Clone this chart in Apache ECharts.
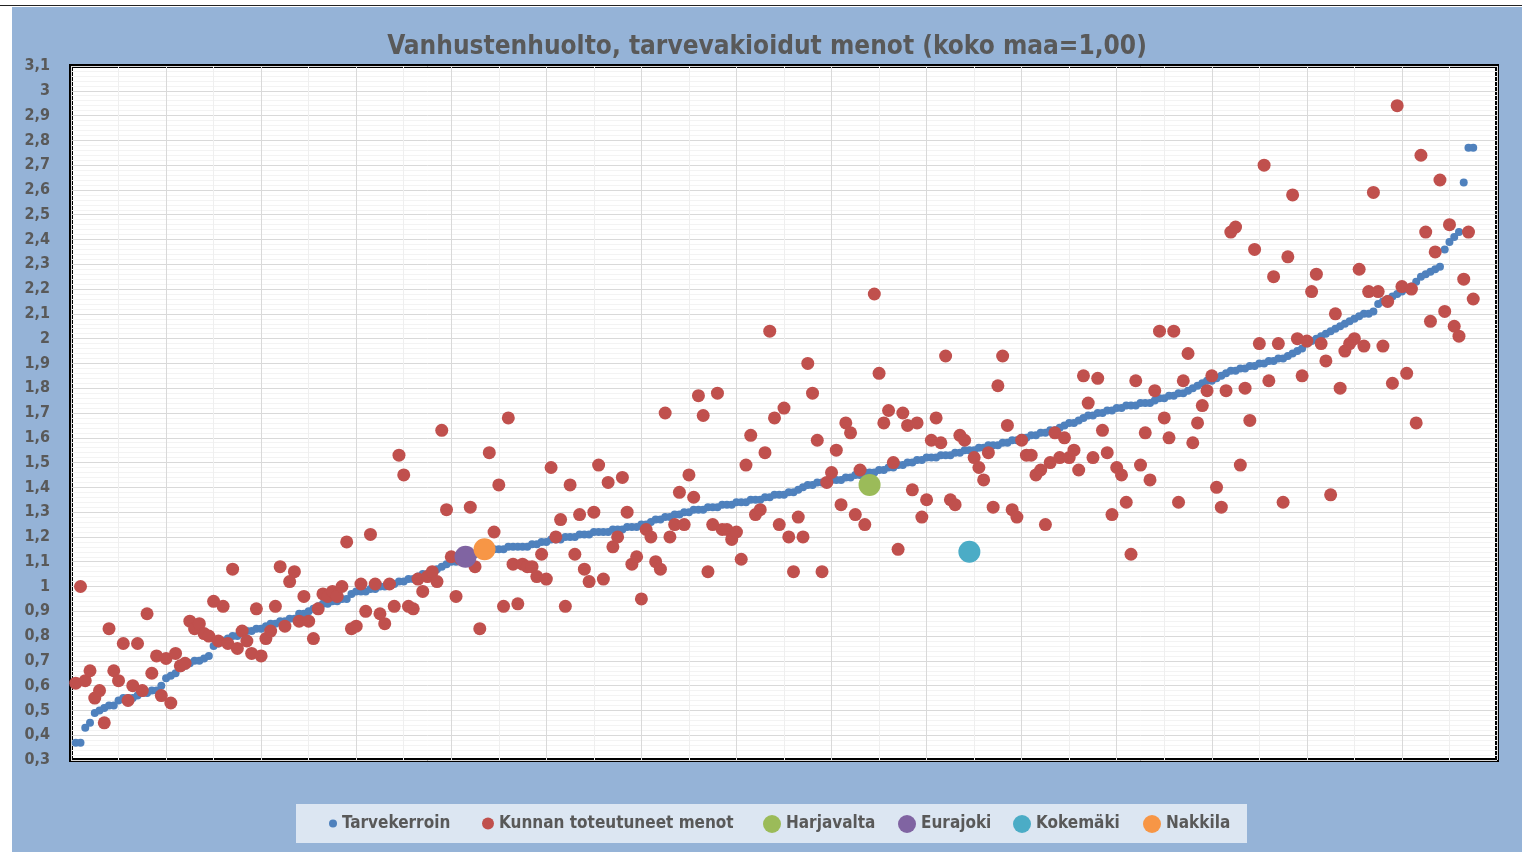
<!DOCTYPE html>
<html>
<head>
<meta charset="utf-8">
<title>Vanhustenhuolto</title>
<script src="https://cdn.jsdelivr.net/npm/echarts@6/dist/echarts.min.js"></script>
<style>
  html, body { margin: 0; padding: 0; background: #fff; width: 1522px; height: 852px; overflow: hidden; }
  #topline { position: absolute; left: 0; top: 5px; width: 1522px; height: 1px; background: #222; }
  #chart { position: absolute; left: 12px; top: 7px; width: 1510px; height: 845px; }
</style>
</head>
<body>
<div id="topline"></div>
<div id="chart"></div>
<script>
// Kunnat järjestettynä tarvekertoimen mukaan (x = järjestysnumero 1..295)
const tarvekerroin = [
  0.37, 0.37, 0.43, 0.45, 0.49, 0.50, 0.51, 0.52, 0.52, 0.54,
  0.55, 0.55, 0.55, 0.56, 0.57, 0.57, 0.58, 0.58, 0.60, 0.63,
  0.64, 0.65, 0.67, 0.68, 0.69, 0.70, 0.70, 0.71, 0.72, 0.76,
  0.77, 0.78, 0.79, 0.80, 0.80, 0.81, 0.82, 0.82, 0.83, 0.83,
  0.84, 0.85, 0.85, 0.86, 0.86, 0.87, 0.87, 0.89, 0.89, 0.90,
  0.91, 0.92, 0.93, 0.93, 0.94, 0.94, 0.95, 0.95, 0.97, 0.98,
  0.98, 0.98, 0.99, 0.99, 1.00, 1.00, 1.01, 1.01, 1.02,
  1.02, 1.03, 1.03, 1.04, 1.05, 1.05, 1.06,
  1.07, 1.08, 1.09, 1.10, 1.10, 1.11, 1.12,
  1.12, 1.13, 1.14, 1.14, 1.14, 1.15, 1.15,
  1.15, 1.16, 1.16, 1.16, 1.16, 1.16, 1.17,
  1.17, 1.18, 1.18, 1.19, 1.19, 1.19, 1.20,
  1.20, 1.20, 1.21, 1.21, 1.21, 1.22, 1.22,
  1.22, 1.22, 1.23, 1.23, 1.23, 1.24, 1.24,
  1.24, 1.25, 1.25, 1.26, 1.27, 1.27, 1.28,
  1.28, 1.29, 1.29, 1.30, 1.30, 1.31, 1.31,
  1.31, 1.32, 1.32, 1.32, 1.33, 1.33, 1.33,
  1.34, 1.34, 1.34, 1.35, 1.35, 1.35, 1.36,
  1.36, 1.37, 1.37, 1.37, 1.38, 1.38, 1.39,
  1.40, 1.41, 1.41, 1.42, 1.42, 1.42, 1.43,
  1.43, 1.43, 1.44, 1.44, 1.45, 1.45, 1.46,
  1.46, 1.46, 1.47, 1.47, 1.48, 1.48, 1.49,
  1.49, 1.50, 1.50, 1.51, 1.51, 1.52, 1.52,
  1.52, 1.53, 1.53, 1.53, 1.54, 1.54, 1.55,
  1.55, 1.55, 1.56, 1.56, 1.57, 1.57, 1.57,
  1.58, 1.58, 1.59, 1.59, 1.60, 1.60, 1.61,
  1.61, 1.62, 1.62, 1.63, 1.63, 1.64, 1.65,
  1.66, 1.66, 1.67, 1.68, 1.69, 1.69, 1.70,
  1.70, 1.71, 1.71, 1.72, 1.72, 1.73, 1.73,
  1.73, 1.74, 1.74, 1.74, 1.75, 1.76, 1.76,
  1.77, 1.77, 1.78, 1.78, 1.79, 1.80, 1.81,
  1.82, 1.83, 1.83, 1.84, 1.85, 1.86, 1.87,
  1.87, 1.88, 1.88, 1.89, 1.89, 1.90, 1.90,
  1.91, 1.91, 1.92, 1.92, 1.93, 1.94, 1.95,
  1.96, 1.98, 1.99, 2.00, 2.01, 2.02, 2.03,
  2.04, 2.05, 2.06, 2.07, 2.08, 2.09, 2.10,
  2.10, 2.11, 2.14,
  2.15, 2.16, 2.17, 2.18, 2.19, 2.20, 2.21,
  2.23, 2.25, 2.26, 2.27, 2.28, 2.29,
  2.36, 2.39, 2.41, 2.43,
  2.63, 2.77, 2.77
]

const toteutuneetMenot = [
  0.61, 1.00, 0.62, 0.66, 0.55, 0.58, 0.45, 0.83, 0.66, 0.62,
  0.77, 0.54, 0.60, 0.77, 0.58, 0.89, 0.65, 0.72, 0.56, 0.71,
  0.53, 0.73, 0.68, 0.69, 0.86, 0.83, 0.85, 0.81, 0.80, 0.94,
  0.78, 0.92, 0.77, 1.07, 0.75, 0.82, 0.78, 0.73, 0.91, 0.72,
  0.79, 0.82, 0.92, 1.08, 0.84, 1.02, 1.06, 0.86, 0.96, 0.86,
  0.79, 0.91, 0.97, 0.96, 0.98, 0.96, 1.00, 1.18, 0.83, 0.84,
  1.01, 0.90, 1.21, 1.01, 0.89, 0.85, 1.01, 0.92, 1.53, 1.45,
  0.92, 0.91, 1.03, 0.98, 1.04, 1.06, 1.02, 1.63, 1.31, 1.12,
  0.96, 1.11, 1.12, 1.32, 1.08, 0.83, 1.15, 1.54, 1.22, 1.41,
  0.92, 1.68, 1.09, 0.93, 1.09, 1.08, 1.08, 1.04, 1.13, 1.03,
  1.48, 1.20, 1.27, 0.92, 1.41, 1.13, 1.29, 1.07, 1.02, 1.30,
  1.49, 1.03, 1.42, 1.16, 1.20, 1.44, 1.30, 1.09, 1.12, 0.95,
  1.23, 1.20, 1.10, 1.07, 1.70, 1.20, 1.25, 1.38, 1.25, 1.45,
  1.36, 1.77, 1.69, 1.06, 1.25, 1.78, 1.23, 1.23, 1.19, 1.22,
  1.11, 1.49, 1.61, 1.29, 1.31, 1.54, 2.03, 1.68, 1.25, 1.72,
  1.20, 1.06, 1.28, 1.20, 1.90, 1.78, 1.59, 1.06, 1.42, 1.46,
  1.55, 1.33, 1.66, 1.62, 1.29, 1.47, 1.25, 1.41, 2.18, 1.86,
  1.66, 1.71, 1.50, 1.15, 1.70, 1.65, 1.39, 1.66, 1.28, 1.35,
  1.59, 1.68, 1.58, 1.93, 1.35, 1.33, 1.61, 1.59, 1.14, 1.52,
  1.48, 1.43, 1.54, 1.32, 1.81, 1.93, 1.65, 1.31, 1.28, 1.59,
  1.53, 1.53, 1.45, 1.47, 1.25, 1.50, 1.62, 1.52, 1.60, 1.52,
  1.55, 1.47, 1.85, 1.74, 1.52, 1.84, 1.63, 1.54, 1.29, 1.48,
  1.45, 1.34, 1.13, 1.83, 1.49, 1.62, 1.43, 1.79, 2.03, 1.68,
  1.60, 2.03, 1.34, 1.83, 1.94, 1.58, 1.66, 1.73, 1.79, 1.85,
  1.40, 1.32, 1.79, 2.43, 2.45, 1.49, 1.80, 1.67, 2.36, 1.98,
  2.70, 1.83, 2.25, 1.98, 1.34, 2.33, 2.58, 2.00, 1.85, 1.99,
  2.19, 2.26, 1.98, 1.91, 1.37, 2.10, 1.80, 1.95, 1.98, 2.00,
  2.28, 1.97, 2.19, 2.59, 2.19, 1.97, 2.15, 1.82, 2.94, 2.21,
  1.86, 2.20, 1.66, 2.74, 2.43, 2.07, 2.35, 2.64, 2.11, 2.46,
  2.05, 2.01, 2.24, 2.43, 2.16
]

// Korostetut kunnat ja niiden järjestysnumerot
const korostetut = ['Harjavalta', 'Eurajoki', 'Kokemäki', 'Nakkila']
const korostetutSijat = [168, 83, 189, 87]

const seriesNames = ['Tarvekerroin', 'Kunnan toteutuneet menot']
const yTicks = { min: 0.3, max: 3.1, step: 0.1 }
const xRange = { min: 0, max: 300, step: 20 }

const colors = ['#4f81bd', '#c0504d', '#9bbb59', '#8064a2', '#4bacc6', '#f79646']
const textColor = '#595959'
const font = '"DejaVu Sans Condensed", "DejaVu Sans", sans-serif'

// legend placement: [left, iconSize] in container px
const legendSlots = [
  [317, 8], [470, 12], [751, 18], [886, 18], [1001, 18], [1131, 18]
]

const chart = echarts.init(document.getElementById('chart'))

function fmt(v) {
  return String(Math.round(v * 10) / 10).replace('.', ',')
}

function buildOption() {
  const legendNames = seriesNames.concat(korostetut)
  const legends = legendNames.map((name, k) => ({
    data: [{ name, icon: 'circle' }],
    left: legendSlots[k][0],
    top: 808,
    padding: 0,
    itemWidth: legendSlots[k][1],
    itemHeight: legendSlots[k][1],
    selectedMode: false,
    textStyle: { color: textColor, fontSize: 17, fontWeight: 'bold', fontFamily: font }
  }))

  const highlightSeries = korostetut.map((name, k) => ({
    name,
    type: 'scatter',
    symbolSize: 22,
    z: 4,
    itemStyle: { color: colors[k + 2], opacity: 1 },
    data: [[korostetutSijat[k], toteutuneetMenot[korostetutSijat[k] - 1]]]
  }))

  return {
    backgroundColor: '#95b3d7',
    animation: false,
    title: {
      text: 'Vanhustenhuolto, tarvevakioidut menot (koko maa=1,00)',
      left: 'center',
      top: 22,
      textStyle: { color: textColor, fontSize: 26, fontWeight: 'bold', fontFamily: font }
    },
    legend: legends,
    graphic: [{
      type: 'rect',
      z: -1,
      shape: { x: 284, y: 797, width: 951, height: 39 },
      style: { fill: '#dce6f2' }
    }],
    grid: {
      left: 59,
      right: 25,
      top: 59,
      bottom: 92,
      show: true,
      backgroundColor: '#fff',
      borderColor: '#000',
      borderWidth: 4
    },
    xAxis: {
      type: 'value',
      min: xRange.min,
      max: xRange.max,
      interval: xRange.step,
      axisLine: { show: false },
      axisTick: { show: false },
      axisLabel: { show: false },
      splitLine: { lineStyle: { color: '#d9d9d9', width: 1 } },
      minorTick: { show: false, splitNumber: 2 },
      minorSplitLine: { show: true, lineStyle: { color: '#efefef', width: 1 } }
    },
    yAxis: {
      type: 'value',
      min: yTicks.min,
      max: yTicks.max,
      interval: yTicks.step,
      axisLine: { show: false },
      axisTick: { show: false },
      axisLabel: {
        color: textColor,
        fontSize: 16,
        fontWeight: 'bold',
        fontFamily: font,
        margin: 21,
        formatter: fmt
      },
      splitLine: { lineStyle: { color: '#d9d9d9', width: 1 } },
      minorTick: { show: false, splitNumber: 5 },
      minorSplitLine: { show: true, lineStyle: { color: '#f3f3f3', width: 1 } }
    },
    series: [
      {
        name: seriesNames[0],
        type: 'scatter',
        symbolSize: 8,
        z: 2,
        itemStyle: { color: colors[0], opacity: 1 },
        data: tarvekerroin.map((v, i) => [i + 1, v])
      },
      {
        name: seriesNames[1],
        type: 'scatter',
        symbolSize: 13,
        z: 3,
        itemStyle: { color: colors[1], opacity: 1 },
        data: toteutuneetMenot.map((v, i) => [i + 1, v])
      }
    ].concat(highlightSeries)
  }
}

chart.setOption(buildOption())

window.addEventListener('resize', () => chart.resize())
</script>
</body>
</html>
